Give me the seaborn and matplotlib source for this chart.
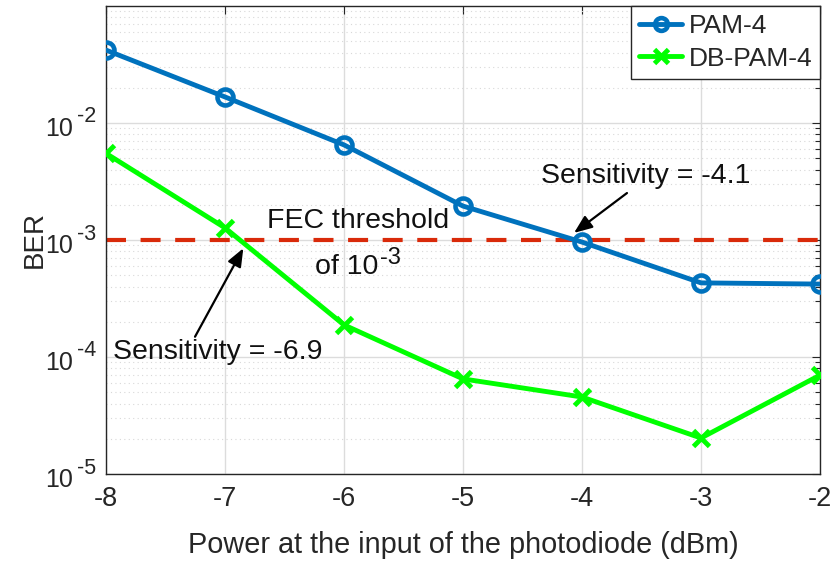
import numpy as np
import pandas as pd
import matplotlib
matplotlib.use("Agg")
import matplotlib.pyplot as plt
import matplotlib.transforms as mtransforms
import seaborn as sns
from matplotlib.ticker import LogLocator, NullFormatter

power = [-8, -7, -6, -5, -4, -3, -2]
ber_pam4 = [0.042, 0.0167, 0.0065, 0.00195, 9.6e-4, 4.3e-4, 4.2e-4]
ber_dbpam4 = [5.5e-3, 1.27e-3, 1.88e-4, 6.5e-5, 4.55e-5, 2.03e-5, 7.0e-5]
fec_threshold = 1e-3
series_names = ["PAM-4", "DB-PAM-4"]
ytick_vals = [1e-5, 1e-4, 1e-3, 1e-2]
ytick_exps = ["-5", "-4", "-3", "-2"]

sns.set_theme(style="white")
plt.rcParams['font.family'] = ['Liberation Sans', 'DejaVu Sans']

df1 = pd.DataFrame({"x": power, "y": ber_pam4})
df2 = pd.DataFrame({"x": power, "y": ber_dbpam4})

fig = plt.figure(figsize=(8.33, 5.61), dpi=100)
ax = fig.add_axes([106/833, 1-474/561, 714/833, 468/561])

sns.lineplot(data=df1, x="x", y="y", ax=ax, color="#0072BD", lw=3.5,
             marker="o", markersize=11.5, mfc="none", mec="#0072BD", mew=3.3,
             label=series_names[0], zorder=3)
sns.lineplot(data=df2, x="x", y="y", ax=ax, color="#00FF00", lw=3.5,
             marker="x", markersize=12, mew=3.5, mec="#00FF00",
             label=series_names[1], zorder=3)
ax.axhline(fec_threshold, color="#D92A0A", lw=3, ls=(0, (4.8, 3.5)), zorder=2)

ax.set_yscale("log")
ax.set_xlim(-8, -2)
ax.set_ylim(1e-5, 1e-1)
ax.set_xticks(power)
ax.set_xticklabels([str(p) for p in power])
ax.yaxis.set_minor_locator(LogLocator(base=10, subs=np.arange(2, 10), numticks=20))
ax.yaxis.set_minor_formatter(NullFormatter())
ax.set_yticks(ytick_vals)
ax.set_yticklabels([])

# MATLAB-style tick labels: "10" with a large superscript exponent
ytrans = ax.get_yaxis_transform()
for v, e in zip(ytick_vals, ytick_exps):
    ax.text(0, v, "10", fontsize=18, ha="right", va="center", color="#262626",
            transform=mtransforms.offset_copy(ytrans, fig=fig, x=-33, y=-6, units="dots"))
    ax.text(0, v, e, fontsize=15.5, ha="left", va="center", color="#262626",
            transform=mtransforms.offset_copy(ytrans, fig=fig, x=-29, y=6, units="dots"))

ax.grid(True, which="major", color="#DCDCDC", lw=1, ls="-")
ax.grid(True, which="minor", axis="y", color="#D8D8D8", lw=0.8, ls=(0, (1, 3)))
ax.set_axisbelow(True)
for s in ax.spines.values():
    s.set_color("#262626")
    s.set_linewidth(1)
ax.tick_params(which="both", direction="in", top=True, right=True,
               colors="#262626", labelsize=19.5, labelcolor="#262626")
ax.tick_params(which="major", length=6, width=0.8)
ax.tick_params(which="minor", length=3.5, width=0.8)
ax.tick_params(axis="x", pad=9)

ax.set_xlabel("Power at the input of the photodiode (dBm)", fontsize=20.8, color="#262626")
ax.xaxis.set_label_coords(0.5, -0.122)
ax.set_ylabel("BER", fontsize=20, color="#262626")
ax.yaxis.set_label_coords(-0.082, 0.5)

txt_kw = dict(fontsize=20.5, color="#111111")
ax.text(-5.88, 1.45e-3, "FEC threshold", ha="center", va="center", **txt_kw)
dtrans = ax.transData
ax.text(-5.714, 5.87e-4, "of 10", ha="right", va="center", **txt_kw)
ax.text(-5.714, 5.87e-4, "-3", ha="left", va="center", fontsize=17, color="#111111",
        transform=mtransforms.offset_copy(dtrans, fig=fig, x=2, y=9, units="dots"))
ax.text(-3.466, 3.52e-3, "Sensitivity = -4.1", ha="center", va="center", **txt_kw)
ax.text(-7.059, 1.10e-4, "Sensitivity = -6.9", ha="center", va="center", **txt_kw)
arrow_kw = dict(arrowstyle="-|>,head_length=0.55,head_width=0.22", color="black", lw=1.6,
                shrinkA=0, shrinkB=0, mutation_scale=20)
ax.annotate("", xy=(-4.067, 1.15e-3), xytext=(-3.622, 2.52e-3), arrowprops=arrow_kw)
ax.annotate("", xy=(-6.846, 8.5e-4), xytext=(-7.252, 1.49e-4), arrowprops=arrow_kw)

leg = ax.legend(loc="upper right", fontsize=19, frameon=True, fancybox=False,
                borderaxespad=0, handlelength=1.63, labelspacing=0.33,
                handletextpad=0.23, borderpad=0.3, markerscale=0.8)
leg.get_frame().set_edgecolor("#262626")
leg.get_frame().set_linewidth(1)
leg.get_frame().set_alpha(1)

fig.savefig("out.png", dpi=100)
